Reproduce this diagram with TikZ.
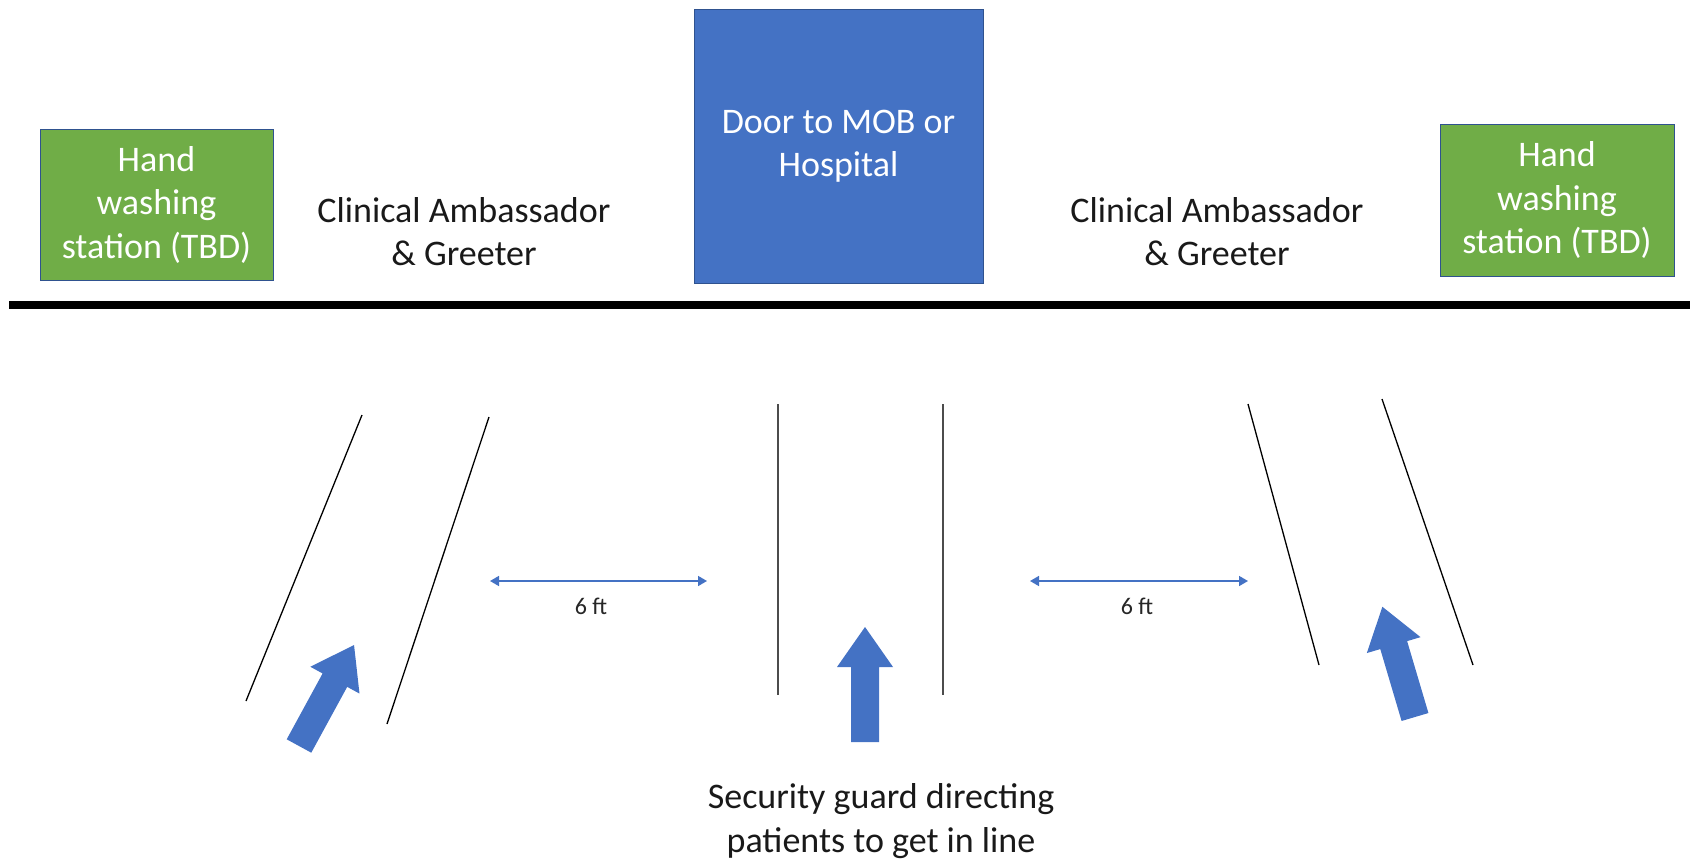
\documentclass[tikz,border=0pt]{standalone}
\usepackage{fontspec}
\setmainfont{Carlito}
\usetikzlibrary{arrows.meta}
\definecolor{officeblue}{HTML}{4472C4}
\definecolor{officegreen}{HTML}{70AD47}
\definecolor{outlineblue}{HTML}{2F528F}
\begin{document}
\begin{tikzpicture}[x=1pt,y=-1pt,
  bigtext/.style={font=\fontsize{36}{43.5}\selectfont, align=center, inner sep=0pt},
  station/.style={bigtext, fill=officegreen, draw=outlineblue, line width=0.8pt, text=white},
  doorbox/.style={bigtext, fill=officeblue, draw=outlineblue, line width=0.8pt, text=white},
  role/.style={bigtext, text=black!90},
  rail/.style={draw=black, line width=1.3pt},
  gap/.style={draw=officeblue, line width=1.6pt, {Triangle[length=9pt,width=10pt]}-{Triangle[length=9pt,width=10pt]}},
  gaplabel/.style={font=\fontsize{24}{27}\selectfont, text=black!85},
  flow/.style={fill=officeblue, draw=none}]
\useasboundingbox (0,0) rectangle (1690,862);

% stations and door
\node[station, minimum width=233pt, minimum height=151pt] (handL) at (156.5,204.5) {Hand\\washing\\station (TBD)};
\node[station, minimum width=234pt, minimum height=152pt] (handR) at (1557,200) {Hand\\washing\\station (TBD)};
\node[doorbox, minimum width=289pt, minimum height=274pt] (door) at (838.5,146) {Door to MOB or\\Hospital};

\node[role] (greetL) at (464,231.5) {Clinical Ambassador\\\& Greeter};
\node[role] (greetR) at (1217,231.5) {Clinical Ambassador\\\& Greeter};

% building wall
\coordinate (wallW) at (9,305);
\coordinate (wallE) at (1690,305);
\draw[line width=8pt] (wallW) -- (wallE);

% queue rails
\coordinate (l1t) at (362,415); \coordinate (l1b) at (246,701);
\coordinate (l2t) at (489,417); \coordinate (l2b) at (387,724);
\coordinate (m1t) at (778,404); \coordinate (m1b) at (778,695);
\coordinate (m2t) at (943,404); \coordinate (m2b) at (943,695);
\coordinate (r1t) at (1248,404); \coordinate (r1b) at (1319,665);
\coordinate (r2t) at (1382,399); \coordinate (r2b) at (1473,665);
\draw[rail] (l1t) -- (l1b);
\draw[rail] (l2t) -- (l2b);
\draw[rail, draw=black!70] (m1t) -- (m1b);
\draw[rail, draw=black!70] (m2t) -- (m2b);
\draw[rail] (r1t) -- (r1b);
\draw[rail] (r2t) -- (r2b);

% spacing markers
\coordinate (gLa) at (490,581); \coordinate (gLb) at (707,581);
\coordinate (gRa) at (1030,581); \coordinate (gRb) at (1248,581);
\draw[gap] (gLa) -- (gLb);
\draw[gap] (gRa) -- (gRb);
\node[gaplabel] (ftL) at (591,606) {6 ft};
\node[gaplabel] (ftR) at (1137,606) {6 ft};

% direction of patient flow
\foreach \px/\py/\ang in {299/746/61.4, 865/742/90, 1415/717/106.5}{
  \begin{scope}[shift={(\px,\py)}, rotate=\ang]
    \fill[flow] (0,-14) -- (75,-14) -- (75,-28) -- (115,0) -- (75,28) -- (75,14) -- (0,14) -- cycle;
  \end{scope}
}

\node[role] (guard) at (881,821) {Security guard directing\\patients to get in line};
\end{tikzpicture}
\end{document}
